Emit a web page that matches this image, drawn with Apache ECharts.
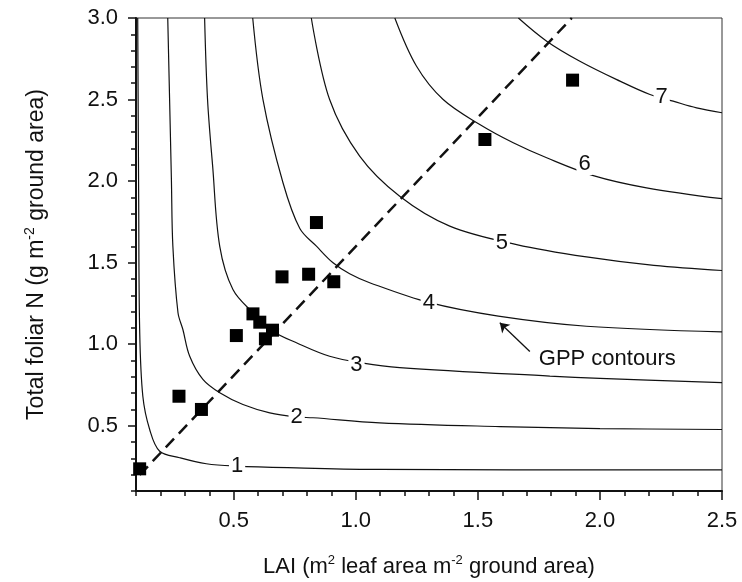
<!DOCTYPE html>
<html>
<head>
<meta charset="utf-8">
<script src="https://cdn.jsdelivr.net/npm/echarts@6/dist/echarts.min.js"></script>
<style>
html, body { margin: 0; padding: 0; background: #fff; }
#main { width: 742px; height: 582px; }
</style>
</head>
<body>
<div id="main"></div>
<script>
// observed stands: LAI vs total foliar N
var laiObs = [0.115, 0.276, 0.368, 0.511, 0.579, 0.607, 0.630, 0.659, 0.698, 0.807, 0.910, 0.839, 1.529, 1.888];
var nObs   = [0.236, 0.681, 0.600, 1.053, 1.186, 1.135, 1.033, 1.086, 1.413, 1.429, 1.383, 1.746, 2.255, 2.619];

// dashed line through the data
var fitX = [0.115, 1.885];
var fitY = [0.198, 3.0];

// GPP contours as [LAI, N]
var gpp1 = [[0.107, 3.0], [0.111, 1.887], [0.115, 1.09], [0.128, 0.681], [0.156, 0.477], [0.197, 0.344],
            [0.279, 0.304], [0.388, 0.267], [0.512, 0.253], [0.757, 0.242], [1.098, 0.232], [2.5, 0.229]];
var gpp2 = [[0.230, 3.0], [0.245, 2.01], [0.251, 1.60], [0.272, 1.193], [0.292, 1.09], [0.320, 0.926],
            [0.374, 0.784], [0.443, 0.702], [0.538, 0.630], [0.648, 0.579], [0.758, 0.554], [0.825, 0.549],
            [1.098, 0.518], [1.59, 0.495], [2.0, 0.483], [2.5, 0.477]];
var gpp3 = [[0.381, 3.0], [0.393, 2.50], [0.414, 2.09], [0.443, 1.60], [0.497, 1.335], [0.579, 1.193],
            [0.661, 1.080], [0.757, 1.009], [0.893, 0.926], [1.03, 0.884], [1.18, 0.857], [1.795, 0.804],
            [2.0, 0.790], [2.5, 0.765]];
var gpp4 = [[0.578, 3.0], [0.620, 2.50], [0.702, 1.99], [0.771, 1.709], [0.839, 1.601], [0.907, 1.499],
            [0.975, 1.432], [1.057, 1.377], [1.299, 1.256], [1.584, 1.172], [1.945, 1.110], [2.5, 1.075]];
var gpp5 = [[0.818, 3.0], [0.893, 2.50], [1.016, 2.153], [1.18, 1.907], [1.385, 1.724], [1.659, 1.611],
            [1.945, 1.535], [2.221, 1.483], [2.5, 1.452]];
var gpp6 = [[1.160, 3.0], [1.249, 2.704], [1.358, 2.50], [1.508, 2.347], [1.645, 2.235], [1.782, 2.143],
            [1.973, 2.034], [2.191, 1.959], [2.5, 1.892]];
var gpp7 = [[1.666, 3.0], [1.782, 2.858], [1.918, 2.735], [2.082, 2.613], [2.205, 2.531], [2.30, 2.490],
            [2.396, 2.449], [2.5, 2.419]];

var contourNames = ['1', '2', '3', '4', '5', '6', '7'];
var contourLabelX = [0.514, 0.758, 1.003, 1.299, 1.598, 1.937, 2.253];
var contourLabelY = [0.256, 0.554, 0.872, 1.250, 1.620, 2.105, 2.513];

var noteText = 'GPP contours';
var notePos = [2.03, 0.912];
var arrowTail = [1.713, 0.955];
var arrowHead = [1.590, 1.131];

var xTickLabels = [0.5, 1.0, 1.5, 2.0, 2.5];
var yTickLabels = [0.5, 1.0, 1.5, 2.0, 2.5, 3.0];

var FONT = '"Liberation Sans", Arial, Helvetica, sans-serif';
var INK = '#111';

function pairs(xs, ys) {
    var d = [];
    for (var i = 0; i < xs.length; i++) {
        d.push([xs[i], ys[i]]);
    }
    return d;
}

function contourSeries(name, pts) {
    return {
        name: name,
        type: 'line',
        data: pts,
        smooth: 0.35,
        symbol: 'none',
        silent: true,
        lineStyle: { color: INK, width: 1.2 },
        z: 2
    };
}

var labelData = [];
for (var i = 0; i < contourNames.length; i++) {
    labelData.push({ value: [contourLabelX[i], contourLabelY[i]], name: contourNames[i] });
}

function nameRich(size) {
    return {
        t: { fontSize: size, fontFamily: FONT, color: INK, lineHeight: size + 4 },
        s: { fontSize: Math.round(size * 0.6), fontFamily: FONT, color: INK, verticalAlign: 'top', lineHeight: 12 }
    };
}

var option = {
    animation: false,
    backgroundColor: '#fff',
    grid: {
        left: 136, right: 20, top: 18, bottom: 91,
        show: true,
        borderColor: '#333',
        borderWidth: 1,
        outerBoundsMode: 'none'
    },
    xAxis: [
        {
            type: 'value',
            min: 0.1,
            max: 2.5,
            interval: 0.1,
            position: 'bottom',
            name: '{t|LAI (m}{s|2}{t| leaf area m}{s|-2}{t| ground area)}',
            nameLocation: 'middle',
            nameGap: 63,
            nameTextStyle: { rich: nameRich(22) },
            axisLine: { lineStyle: { color: INK, width: 2 } },
            axisTick: { inside: false, length: 5, lineStyle: { color: INK, width: 1.5 } },
            axisLabel: {
                customValues: xTickLabels,
                margin: 19,
                fontSize: 22,
                fontFamily: FONT,
                color: INK,
                formatter: function (v) { return v.toFixed(1); }
            },
            splitLine: { show: false }
        },
        {
            type: 'value',
            min: 0.1,
            max: 2.5,
            position: 'bottom',
            axisLine: { show: false },
            axisTick: { customValues: xTickLabels, length: 9, lineStyle: { color: INK, width: 1.5 } },
            axisLabel: { show: false },
            splitLine: { show: false }
        }
    ],
    yAxis: [
        {
            type: 'value',
            min: 0.1,
            max: 3.0,
            interval: 0.1,
            position: 'left',
            name: '{t|Total foliar N (g m}{s|-2}{t| ground area)}',
            nameLocation: 'middle',
            nameGap: 86,
            nameTextStyle: { rich: nameRich(23) },
            axisLine: { lineStyle: { color: INK, width: 2 } },
            axisTick: { inside: false, length: 5, lineStyle: { color: INK, width: 1.5 } },
            axisLabel: {
                customValues: yTickLabels,
                margin: 18,
                fontSize: 22,
                fontFamily: FONT,
                color: INK,
                formatter: function (v) { return v.toFixed(1); }
            },
            splitLine: { show: false }
        },
        {
            type: 'value',
            min: 0.1,
            max: 3.0,
            position: 'left',
            axisLine: { show: false },
            axisTick: { customValues: yTickLabels, length: 8, lineStyle: { color: INK, width: 1.5 } },
            axisLabel: { show: false },
            splitLine: { show: false }
        }
    ],
    series: [
        contourSeries('GPP 1', gpp1),
        contourSeries('GPP 2', gpp2),
        contourSeries('GPP 3', gpp3),
        contourSeries('GPP 4', gpp4),
        contourSeries('GPP 5', gpp5),
        contourSeries('GPP 6', gpp6),
        contourSeries('GPP 7', gpp7),
        {
            name: 'fit',
            type: 'line',
            data: pairs(fitX, fitY),
            symbol: 'none',
            silent: true,
            lineStyle: { color: INK, width: 2.5, type: [12, 7] },
            z: 3
        },
        {
            name: 'observed',
            type: 'scatter',
            data: pairs(laiObs, nObs),
            symbol: 'rect',
            symbolSize: 13,
            itemStyle: { color: '#000', opacity: 1 },
            z: 4
        },
        {
            name: 'contour labels',
            type: 'scatter',
            data: labelData,
            symbolSize: 1,
            itemStyle: { color: 'rgba(0,0,0,0)', opacity: 1 },
            silent: true,
            label: {
                show: true,
                position: 'inside',
                formatter: '{b}',
                fontSize: 22,
                fontFamily: FONT,
                color: INK,
                textBorderWidth: 0,
                backgroundColor: '#fff',
                padding: [0, 2]
            },
            z: 5
        },
        {
            name: 'arrow',
            type: 'lines',
            coordinateSystem: 'cartesian2d',
            silent: true,
            symbol: ['none', 'arrow'],
            symbolSize: 9,
            lineStyle: { color: INK, width: 1.3, opacity: 1 },
            data: [{ coords: [arrowTail, arrowHead] }],
            z: 5
        },
        {
            name: 'note',
            type: 'scatter',
            data: [{ value: notePos, name: noteText }],
            symbolSize: 1,
            itemStyle: { color: 'rgba(0,0,0,0)', opacity: 1 },
            silent: true,
            label: {
                show: true,
                position: 'inside',
                formatter: '{b}',
                fontSize: 22,
                fontFamily: FONT,
                color: INK,
                textBorderWidth: 0
            },
            z: 5
        }
    ]
};

var myChart = echarts.init(document.getElementById('main'));
myChart.setOption(option);
</script>
</body>
</html>
